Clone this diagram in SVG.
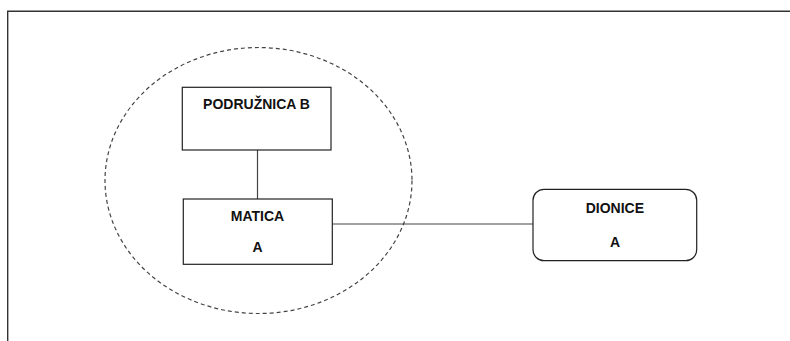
<svg xmlns="http://www.w3.org/2000/svg" width="790" height="341" viewBox="0 0 790 341">
<style>
.box{fill:#fff;stroke:#222;stroke-width:1.2}
.conn{stroke:#444;stroke-width:1.2;fill:none}
.lbl{font-family:"Liberation Sans",Arial,sans-serif;font-size:14px;font-weight:bold;fill:#111;text-anchor:middle}
</style>
<rect width="790" height="341" fill="#fff"/>
<g id="frame">
<path d="M7.7 341 V11.3 H790" fill="none" stroke="#333" stroke-width="1.4"/>
</g>
<g id="group-ellipse">
<ellipse cx="258.5" cy="180.5" rx="153.5" ry="133" fill="none" stroke="#444" stroke-width="1.2" stroke-dasharray="4 3"/>
</g>
<g id="connectors">
<line class="conn" x1="257.5" y1="150" x2="257.5" y2="199"/>
<line class="conn" x1="332" y1="224" x2="533" y2="224"/>
</g>
<g id="podruznica">
<rect class="box" x="182.3" y="87.3" width="148.7" height="62.7"/>
<text class="lbl" x="256.5" y="109.3">PODRUŽNICA B</text>
</g>
<g id="matica">
<rect class="box" x="183.3" y="199" width="149" height="65.3"/>
<text class="lbl" x="257.5" y="220.7">MATICA</text>
<text class="lbl" x="257.5" y="252.3">A</text>
</g>
<g id="dionice">
<rect class="box" x="533" y="189.3" width="163.7" height="71.4" rx="11" ry="11"/>
<text class="lbl" x="614.8" y="213.3">DIONICE</text>
<text class="lbl" x="615" y="246.7">A</text>
</g>
</svg>
